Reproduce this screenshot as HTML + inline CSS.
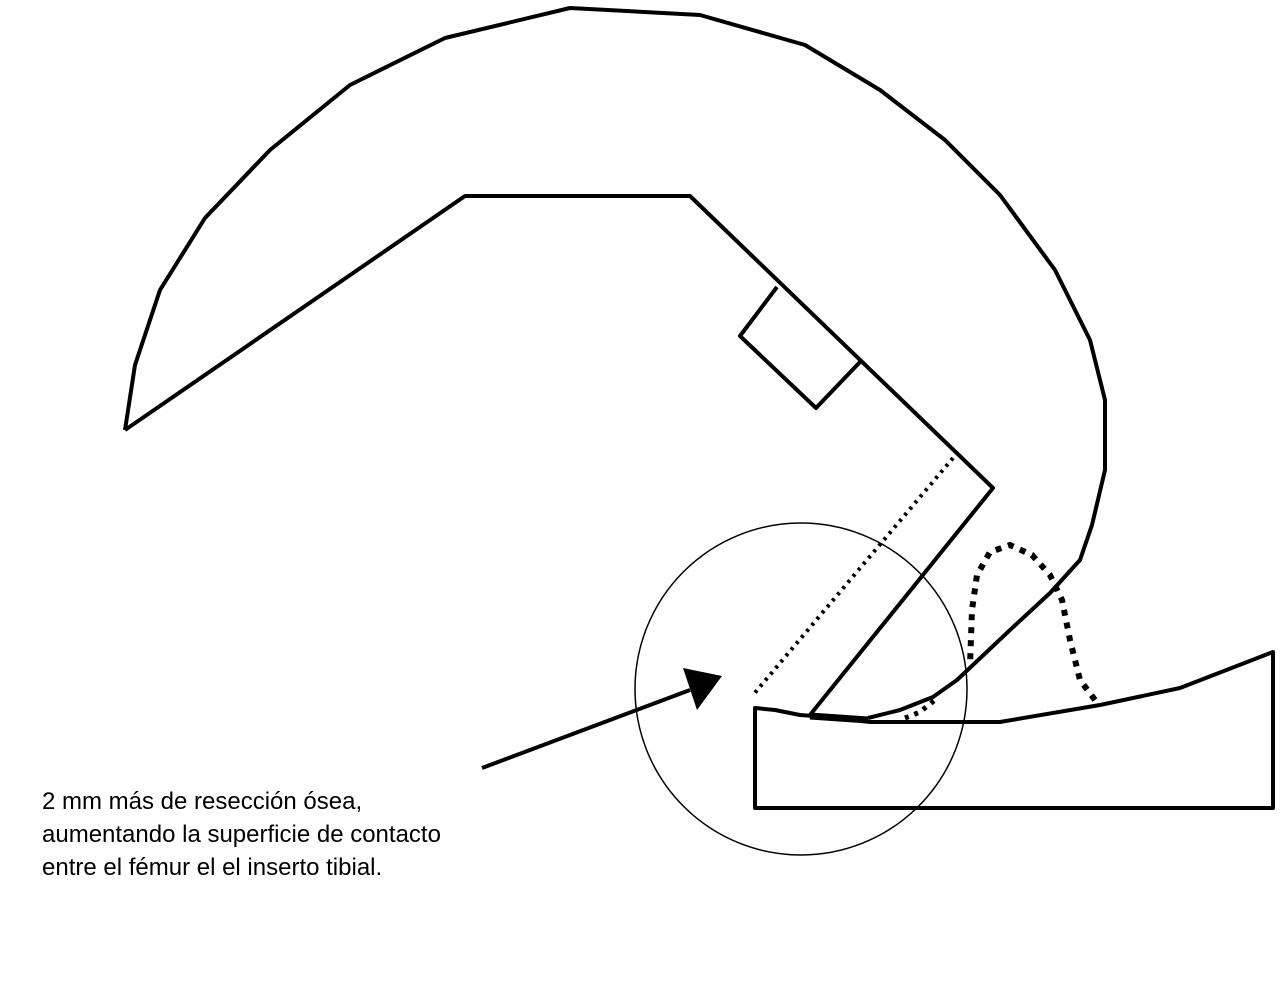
<!DOCTYPE html>
<html><head><meta charset="utf-8"><style>
html,body{margin:0;padding:0;background:#fff;width:1280px;height:1002px;overflow:hidden}
svg{position:absolute;left:0;top:0}
.t{position:absolute;left:42px;top:785px;font-family:"Liberation Sans",sans-serif;font-size:24px;line-height:33px;color:#000;white-space:nowrap}
</style></head><body>
<svg width="1280" height="1002" viewBox="0 0 1280 1002">
<g fill="none" stroke="#000" stroke-width="4" stroke-linejoin="round">
<polyline points="125,430 135,365 160,290 205,218 270,150 350,85 445,38 570,8 700,15 805,45 880,90 945,140 1000,195 1055,270 1090,340 1105,400 1105,470 1092,525 1080,560 1050,593 1010,630 957,680 933,697 900,710 868,718"/>
<polyline points="125,430 465,196 690,196 993,488 810,715"/>
<polyline points="777,287 740,336 816,408 860,362"/>
<path d="M755,708 L755,808 L1273,808 L1273,652 L1180,688 L1100,705 L1000,722 L870,722 L840,718 L800,715 L775,710 Z"/>
<line x1="810" y1="716" x2="868" y2="720" stroke-width="7"/>
</g>
<line x1="953" y1="458" x2="753" y2="695" stroke="#000" stroke-width="4" stroke-dasharray="3,5"/>
<path d="M1095,700 L1080,680 L1070,640 L1062,600 L1050,575 L1032,555 L1010,545 L990,552 L977,575 L972,610 L970,665" fill="none" stroke="#000" stroke-width="6" stroke-dasharray="6,7"/>
<path d="M905,718 L920,712 L935,700" fill="none" stroke="#000" stroke-width="5" stroke-dasharray="4,6"/>
<circle cx="801" cy="689" r="166" fill="none" stroke="#000" stroke-width="1.5"/>
<line x1="482" y1="768" x2="690" y2="690" stroke="#000" stroke-width="4"/>
<polygon points="722,676 683,668 697,710" fill="#000"/>
</svg>
<div class="t">2 mm más de resección ósea,<br>aumentando la superficie de contacto<br>entre el fémur el el inserto tibial.</div>
</body></html>
